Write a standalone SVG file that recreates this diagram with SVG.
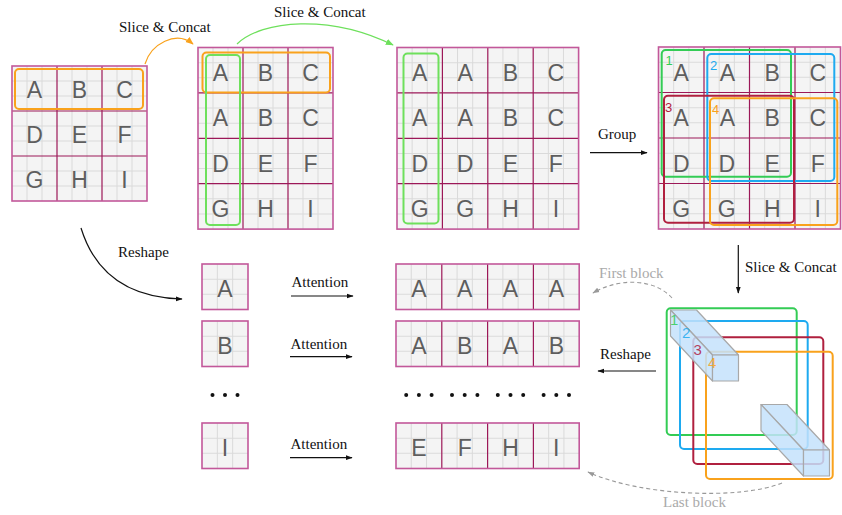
<svg xmlns="http://www.w3.org/2000/svg" xmlns:xlink="http://www.w3.org/1999/xlink" width="842" height="515" viewBox="0 0 842 515">
<style>
.L{font-family:"Liberation Sans",Arial,sans-serif;font-size:23px;fill:#5e5e5e;text-anchor:middle}
.T{font-family:"Liberation Serif","Times New Roman",serif;font-size:15px;fill:#111}
.G{font-family:"Liberation Serif","Times New Roman",serif;font-size:15px;fill:#aaaaaa}
.N{font-family:"Liberation Sans",Arial,sans-serif;font-size:13px}
.N2{font-family:"Liberation Sans",Arial,sans-serif;font-size:15px}
.in{fill:none;stroke:#9c1858;stroke-width:1.2}
.out{fill:none;stroke:#c2589a;stroke-width:1.6}
.box{fill:none;stroke-width:2}
.og{stroke:#f9a21c}
.gn{stroke:#6ee05c}
.gn2{stroke:#33cc55}
.bl{stroke:#1eaaf0}
.rd{stroke:#b0203f}
.pr{fill:#c4e2fb;fill-opacity:0.85;stroke:#a8a8a8;stroke-width:1.2;stroke-linejoin:round}
.ar{fill:none;stroke:#111;stroke-width:1.2}
.dash{fill:none;stroke:#999;stroke-width:1.1;stroke-dasharray:4 3}
</style>
<defs>
<symbol id="cell" viewBox="0 0 45 45" preserveAspectRatio="none">
<rect width="45" height="45" fill="#f4f4f4"/>
<path d="M15 0V45M30 0V45M0 15H45M0 30H45" stroke="#dadada" stroke-width="1" fill="none"/>
</symbol>
<marker id="mk" viewBox="0 0 10 10" refX="9" refY="5" markerWidth="7" markerHeight="7" orient="auto" markerUnits="userSpaceOnUse"><path d="M0,1.5L10,5L0,8.5z" fill="#111"/></marker>
<marker id="mo" viewBox="0 0 10 10" refX="9" refY="5" markerWidth="8" markerHeight="8" orient="auto" markerUnits="userSpaceOnUse"><path d="M0,1L10,5L0,9z" fill="#f9a21c"/></marker>
<marker id="mg" viewBox="0 0 10 10" refX="9" refY="5" markerWidth="8" markerHeight="8" orient="auto" markerUnits="userSpaceOnUse"><path d="M0,1L10,5L0,9z" fill="#6ee05c"/></marker>
<marker id="md" viewBox="0 0 10 10" refX="9" refY="5" markerWidth="7" markerHeight="7" orient="auto" markerUnits="userSpaceOnUse"><path d="M0,1.5L10,5L0,8.5z" fill="#999"/></marker>
</defs>
<rect width="842" height="515" fill="#ffffff"/>

<g id="grid1">
<use href="#cell" x="12" y="66" width="45" height="45"/><use href="#cell" x="57" y="66" width="45" height="45"/><use href="#cell" x="102" y="66" width="45" height="45"/>
<use href="#cell" x="12" y="111" width="45" height="45"/><use href="#cell" x="57" y="111" width="45" height="45"/><use href="#cell" x="102" y="111" width="45" height="45"/>
<use href="#cell" x="12" y="156" width="45" height="45"/><use href="#cell" x="57" y="156" width="45" height="45"/><use href="#cell" x="102" y="156" width="45" height="45"/>
<path class="in" d="M57,66V201M102,66V201M12,111H147M12,156H147"/>
<rect class="out" x="12" y="66" width="135" height="135"/>
<text class="L" x="34.5" y="98">A</text><text class="L" x="79.5" y="98">B</text><text class="L" x="124.5" y="98">C</text>
<text class="L" x="34.5" y="143">D</text><text class="L" x="79.5" y="143">E</text><text class="L" x="124.5" y="143">F</text>
<text class="L" x="34.5" y="188">G</text><text class="L" x="79.5" y="188">H</text><text class="L" x="124.5" y="188">I</text>
<rect class="box og" x="15" y="69" width="128" height="40" rx="4"/>
</g>

<g id="grid2">
<use href="#cell" x="198" y="47.5" width="45" height="45.4"/><use href="#cell" x="243" y="47.5" width="45" height="45.4"/><use href="#cell" x="288" y="47.5" width="45" height="45.4"/>
<use href="#cell" x="198" y="92.9" width="45" height="45.4"/><use href="#cell" x="243" y="92.9" width="45" height="45.4"/><use href="#cell" x="288" y="92.9" width="45" height="45.4"/>
<use href="#cell" x="198" y="138.3" width="45" height="45.4"/><use href="#cell" x="243" y="138.3" width="45" height="45.4"/><use href="#cell" x="288" y="138.3" width="45" height="45.4"/>
<use href="#cell" x="198" y="183.7" width="45" height="45.4"/><use href="#cell" x="243" y="183.7" width="45" height="45.4"/><use href="#cell" x="288" y="183.7" width="45" height="45.4"/>
<path class="in" d="M243,47.5V229.1M288,47.5V229.1M198,92.9H333M198,138.3H333M198,183.7H333"/>
<rect class="out" x="198" y="47.5" width="135" height="181.6"/>
<text class="L" x="220.5" y="81">A</text><text class="L" x="265.5" y="81">B</text><text class="L" x="310.5" y="81">C</text>
<text class="L" x="220.5" y="126.4">A</text><text class="L" x="265.5" y="126.4">B</text><text class="L" x="310.5" y="126.4">C</text>
<text class="L" x="220.5" y="171.8">D</text><text class="L" x="265.5" y="171.8">E</text><text class="L" x="310.5" y="171.8">F</text>
<text class="L" x="220.5" y="217.2">G</text><text class="L" x="265.5" y="217.2">H</text><text class="L" x="310.5" y="217.2">I</text>
<rect class="box og" x="202.5" y="52.5" width="127.5" height="40" rx="4"/>
<rect class="box gn" x="206" y="55" width="34" height="170" rx="4"/>
</g>

<g id="grid3">
<use href="#cell" x="397" y="47.5" width="45.4" height="45.4"/><use href="#cell" x="442.4" y="47.5" width="45.4" height="45.4"/><use href="#cell" x="487.8" y="47.5" width="45.4" height="45.4"/><use href="#cell" x="533.2" y="47.5" width="45.4" height="45.4"/>
<use href="#cell" x="397" y="92.9" width="45.4" height="45.4"/><use href="#cell" x="442.4" y="92.9" width="45.4" height="45.4"/><use href="#cell" x="487.8" y="92.9" width="45.4" height="45.4"/><use href="#cell" x="533.2" y="92.9" width="45.4" height="45.4"/>
<use href="#cell" x="397" y="138.3" width="45.4" height="45.4"/><use href="#cell" x="442.4" y="138.3" width="45.4" height="45.4"/><use href="#cell" x="487.8" y="138.3" width="45.4" height="45.4"/><use href="#cell" x="533.2" y="138.3" width="45.4" height="45.4"/>
<use href="#cell" x="397" y="183.7" width="45.4" height="45.4"/><use href="#cell" x="442.4" y="183.7" width="45.4" height="45.4"/><use href="#cell" x="487.8" y="183.7" width="45.4" height="45.4"/><use href="#cell" x="533.2" y="183.7" width="45.4" height="45.4"/>
<path class="in" d="M442.4,47.5V229.1M487.8,47.5V229.1M533.2,47.5V229.1M397,92.9H578.6M397,138.3H578.6M397,183.7H578.6"/>
<rect class="out" x="397" y="47.5" width="181.6" height="181.6"/>
<text class="L" x="419.7" y="81">A</text><text class="L" x="465.1" y="81">A</text><text class="L" x="510.5" y="81">B</text><text class="L" x="555.9" y="81">C</text>
<text class="L" x="419.7" y="126.4">A</text><text class="L" x="465.1" y="126.4">A</text><text class="L" x="510.5" y="126.4">B</text><text class="L" x="555.9" y="126.4">C</text>
<text class="L" x="419.7" y="171.8">D</text><text class="L" x="465.1" y="171.8">D</text><text class="L" x="510.5" y="171.8">E</text><text class="L" x="555.9" y="171.8">F</text>
<text class="L" x="419.7" y="217.2">G</text><text class="L" x="465.1" y="217.2">G</text><text class="L" x="510.5" y="217.2">H</text><text class="L" x="555.9" y="217.2">I</text>
<rect class="box gn" x="403.5" y="53.5" width="35" height="170" rx="4"/>
</g>

<g id="grid4">
<use href="#cell" x="658.5" y="47" width="45.5" height="45.5"/><use href="#cell" x="704" y="47" width="45.5" height="45.5"/><use href="#cell" x="749.5" y="47" width="45.5" height="45.5"/><use href="#cell" x="795" y="47" width="45.5" height="45.5"/>
<use href="#cell" x="658.5" y="92.5" width="45.5" height="45.5"/><use href="#cell" x="704" y="92.5" width="45.5" height="45.5"/><use href="#cell" x="749.5" y="92.5" width="45.5" height="45.5"/><use href="#cell" x="795" y="92.5" width="45.5" height="45.5"/>
<use href="#cell" x="658.5" y="138" width="45.5" height="45.5"/><use href="#cell" x="704" y="138" width="45.5" height="45.5"/><use href="#cell" x="749.5" y="138" width="45.5" height="45.5"/><use href="#cell" x="795" y="138" width="45.5" height="45.5"/>
<use href="#cell" x="658.5" y="183.5" width="45.5" height="45.5"/><use href="#cell" x="704" y="183.5" width="45.5" height="45.5"/><use href="#cell" x="749.5" y="183.5" width="45.5" height="45.5"/><use href="#cell" x="795" y="183.5" width="45.5" height="45.5"/>
<path class="in" d="M704,47V229M749.5,47V229M795,47V229M658.5,92.5H840.5M658.5,138H840.5M658.5,183.5H840.5"/>
<rect class="out" x="658.5" y="47" width="182" height="182"/>
<text class="L" x="681.25" y="80.5">A</text><text class="L" x="727.5" y="80.5">A</text><text class="L" x="772.25" y="80.5">B</text><text class="L" x="817.75" y="80.5">C</text>
<text class="L" x="681.25" y="126">A</text><text class="L" x="727.5" y="126">A</text><text class="L" x="772.25" y="126">B</text><text class="L" x="817.75" y="126">C</text>
<text class="L" x="681.25" y="171.5">D</text><text class="L" x="726.75" y="171.5">D</text><text class="L" x="772.25" y="171.5">E</text><text class="L" x="817.75" y="171.5">F</text>
<text class="L" x="681.25" y="217">G</text><text class="L" x="726.75" y="217">G</text><text class="L" x="772.25" y="217">H</text><text class="L" x="817.75" y="217">I</text>
<rect class="box gn2" x="661.7" y="50" width="129.3" height="126.7" rx="4"/>
<rect class="box bl" x="707.3" y="54" width="127" height="127" rx="4"/>
<rect class="box rd" x="664" y="95.7" width="130" height="127" rx="4"/>
<rect class="box og" x="710" y="98.3" width="127.3" height="126.7" rx="4"/>
<text class="N" x="665.5" y="65" fill="#33cc55">1</text>
<text class="N" x="710" y="70" fill="#1eaaf0">2</text>
<text class="N" x="665" y="111.5" fill="#b0203f">3</text>
<text class="N" x="712" y="114" fill="#f9a21c">4</text>
</g>

<g id="cellA">
<use href="#cell" x="202" y="264" width="46" height="45.5"/>
<rect class="out" x="202" y="264" width="46" height="45.5"/>
<text class="L" x="225" y="297">A</text>
</g>
<g id="cellB">
<use href="#cell" x="202" y="321" width="46" height="45.5"/>
<rect class="out" x="202" y="321" width="46" height="45.5"/>
<text class="L" x="225" y="354">B</text>
</g>
<g id="cellI">
<use href="#cell" x="202" y="423" width="46" height="45.5"/>
<rect class="out" x="202" y="423" width="46" height="45.5"/>
<text class="L" x="225" y="456">I</text>
</g>

<g id="rowA">
<use href="#cell" x="396" y="264" width="45.8" height="45.5"/><use href="#cell" x="441.8" y="264" width="45.8" height="45.5"/><use href="#cell" x="487.6" y="264" width="45.8" height="45.5"/><use href="#cell" x="533.4" y="264" width="45.8" height="45.5"/>
<path class="in" d="M441.8,264V309.5M487.6,264V309.5M533.4,264V309.5"/>
<rect class="out" x="396" y="264" width="183.2" height="45.5"/>
<text class="L" x="418.9" y="297">A</text><text class="L" x="464.7" y="297">A</text><text class="L" x="510.5" y="297">A</text><text class="L" x="556.3" y="297">A</text>
</g>
<g id="rowB">
<use href="#cell" x="396" y="321" width="45.8" height="45.5"/><use href="#cell" x="441.8" y="321" width="45.8" height="45.5"/><use href="#cell" x="487.6" y="321" width="45.8" height="45.5"/><use href="#cell" x="533.4" y="321" width="45.8" height="45.5"/>
<path class="in" d="M441.8,321V366.5M487.6,321V366.5M533.4,321V366.5"/>
<rect class="out" x="396" y="321" width="183.2" height="45.5"/>
<text class="L" x="418.9" y="354">A</text><text class="L" x="464.7" y="354">B</text><text class="L" x="510.5" y="354">A</text><text class="L" x="556.3" y="354">B</text>
</g>
<g id="rowI">
<use href="#cell" x="396" y="423" width="45.8" height="45.5"/><use href="#cell" x="441.8" y="423" width="45.8" height="45.5"/><use href="#cell" x="487.6" y="423" width="45.8" height="45.5"/><use href="#cell" x="533.4" y="423" width="45.8" height="45.5"/>
<path class="in" d="M441.8,423V468.5M487.6,423V468.5M533.4,423V468.5"/>
<rect class="out" x="396" y="423" width="183.2" height="45.5"/>
<text class="L" x="418.9" y="456">E</text><text class="L" x="464.7" y="456">F</text><text class="L" x="510.5" y="456">H</text><text class="L" x="556.3" y="456">I</text>
</g>

<g id="dots" fill="#111">
<circle cx="212.5" cy="395" r="2"/><circle cx="225" cy="395" r="2"/><circle cx="237.5" cy="395" r="2"/>
<circle cx="406.2" cy="395" r="2"/><circle cx="418.9" cy="395" r="2"/><circle cx="431.6" cy="395" r="2"/>
<circle cx="452" cy="395" r="2"/><circle cx="464.7" cy="395" r="2"/><circle cx="477.4" cy="395" r="2"/>
<circle cx="497.8" cy="395" r="2"/><circle cx="510.5" cy="395" r="2"/><circle cx="523.2" cy="395" r="2"/>
<circle cx="543.6" cy="395" r="2"/><circle cx="556.3" cy="395" r="2"/><circle cx="569" cy="395" r="2"/>
</g>

<g id="blocks3d">
<rect class="box gn2" x="666.7" y="308.3" width="130" height="126.7" rx="4"/>
<rect class="box bl" x="680" y="321" width="127.7" height="128" rx="4"/>
<rect class="box rd" x="693.3" y="337.3" width="130" height="126.7" rx="4"/>
<rect class="box og" x="706" y="351.7" width="126.7" height="127.3" rx="4"/>
<polygon class="pr" points="670.5,310 696.5,310 738.5,355 712.5,355"/>
<polygon class="pr" points="670.5,310 712.5,355 712.5,381 670.5,336"/>
<rect class="pr" x="712.5" y="355" width="26" height="26"/>
<polygon class="pr" points="761,404.5 787,404.5 829.5,450 803.5,450"/>
<polygon class="pr" points="761,404.5 803.5,450 803.5,476 761,430.5"/>
<rect class="pr" x="803.5" y="450" width="26" height="26"/>
<text class="N2" x="670" y="325" fill="#33cc55" fill-opacity="0.85">1</text>
<text class="N2" x="682" y="338" fill="#1eaaf0" fill-opacity="0.85">2</text>
<text class="N2" x="693.5" y="355" fill="#b0203f" fill-opacity="0.85">3</text>
<text class="N2" x="708" y="368" fill="#f9a21c" fill-opacity="0.85">4</text>
</g>

<g id="connectors">
<path d="M145,64 C151,44 176,30 193,44" fill="none" stroke="#f9a21c" stroke-width="1.2" marker-end="url(#mo)"/>
<path d="M237,44 C262,20 330,14 393,45" fill="none" stroke="#6ee05c" stroke-width="1.2" marker-end="url(#mg)"/>
<path class="ar" d="M81,228 C98,283 140,298 182,299" marker-end="url(#mk)"/>
<path class="ar" d="M590,152.7 H647" marker-end="url(#mk)"/>
<path class="ar" d="M738.3,245 V293" marker-end="url(#mk)"/>
<path class="ar" d="M656,371 H598" marker-end="url(#mk)"/>
<path class="ar" d="M291,296 H353" marker-end="url(#mk)"/>
<path class="ar" d="M290,356.7 H352" marker-end="url(#mk)"/>
<path class="ar" d="M290,457.7 H352" marker-end="url(#mk)"/>
<path class="dash" d="M672,298 C655,279 620,277 593,293" marker-end="url(#md)"/>
<path class="dash" d="M782,483 C740,500 640,496 588,472" marker-end="url(#md)"/>
</g>

<g id="labels">
<text class="T" x="119" y="32">Slice &amp; Concat</text>
<text class="T" x="274" y="17">Slice &amp; Concat</text>
<text class="T" x="598" y="138.5">Group</text>
<text class="T" x="745" y="272">Slice &amp; Concat</text>
<text class="T" x="118" y="257">Reshape</text>
<text class="T" x="600" y="358.5">Reshape</text>
<text class="T" x="291.5" y="287">Attention</text>
<text class="T" x="290.5" y="348.5">Attention</text>
<text class="T" x="290.5" y="449">Attention</text>
<text class="G" x="599" y="277.5">First block</text>
<text class="G" x="663" y="507">Last block</text>
</g>
</svg>
